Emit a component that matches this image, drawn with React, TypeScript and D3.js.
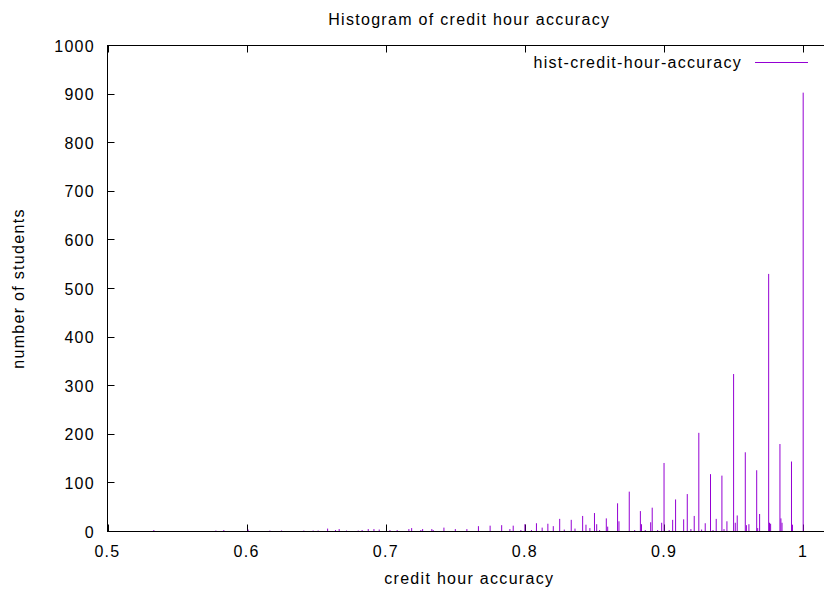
import React, { useRef, useEffect } from 'react'
import * as d3 from 'd3'

// credit hour accuracy value -> number of students
const accuracy = [
  0.5076, 0.5333, 0.5417, 0.55, 0.5615, 0.5659, 0.5723, 0.5779, 0.5836, 0.5915,
  0.6011, 0.6083, 0.6167, 0.6251, 0.6334, 0.6411, 0.6478, 0.6514, 0.6582, 0.6639,
  0.6665, 0.6718, 0.6802, 0.683, 0.6874, 0.6915, 0.6953, 0.703, 0.7082, 0.7109,
  0.7166, 0.7186, 0.7252, 0.7265, 0.7331, 0.7341, 0.7418, 0.75, 0.7583, 0.7666,
  0.775, 0.7833, 0.7892, 0.7916, 0.7971, 0.8, 0.8047, 0.8083, 0.8124, 0.8165,
  0.8204, 0.825, 0.8283, 0.8333, 0.836, 0.8415, 0.8439, 0.8467, 0.85, 0.8516,
  0.8537, 0.8585, 0.8595, 0.8666, 0.8676, 0.875, 0.8789, 0.883, 0.8838, 0.8865,
  0.8904, 0.8915, 0.8954, 0.8983, 0.9, 0.9037, 0.9062, 0.9083, 0.9141, 0.9167,
  0.9193, 0.9217, 0.925, 0.927, 0.9296, 0.9334, 0.9352, 0.9375, 0.9416, 0.9431,
  0.9452, 0.95, 0.9512, 0.9526, 0.9584, 0.9592, 0.961, 0.9666, 0.9673, 0.9687,
  0.9752, 0.9758, 0.9766, 0.9833, 0.984, 0.9848, 0.9916, 0.9923, 1.0,
]
const students = [
  1, 3, 1, 1, 1, 1, 1, 2, 3, 1,
  4, 1, 2, 2, 1, 2, 2, 2, 6, 3,
  5, 2, 2, 3, 5, 5, 4, 3, 3, 1,
  5, 7, 3, 5, 5, 3, 8, 5, 5, 11,
  12, 13, 5, 12, 3, 15, 3, 17, 8, 16,
  11, 26, 4, 24, 6, 32, 14, 7, 38, 15,
  3, 27, 10, 58, 21, 82, 3, 42, 15, 3,
  19, 49, 3, 18, 141, 3, 24, 66, 25, 77,
  5, 32, 203, 4, 17, 118, 3, 26, 115, 5,
  21, 324, 18, 33, 163, 13, 15, 126, 7, 36,
  530, 18, 16, 180, 27, 18, 144, 14, 903,
]

const xTicks = [0.5, 0.6, 0.7, 0.8, 0.9, 1]
const yTicks = [0, 100, 200, 300, 400, 500, 600, 700, 800, 900, 1000]

const title = 'Histogram of credit hour accuracy'
const xLabel = 'credit hour accuracy'
const yLabel = 'number of students'
const seriesName = 'hist-credit-hour-accuracy'

const color = '#9400d3'
const font = '"Liberation Sans", Arial, sans-serif'
const fontSize = '16px'
const spacing = '1.3px'

export default function App() {
  const svgRef = useRef<SVGSVGElement>(null)

  useEffect(() => {
    const svg = d3.select(svgRef.current)
    svg.selectAll('*').remove()

    const width = 824, height = 593
    const left = 107.5, right = 831, top = 45.5, bottom = 531.5

    const x = d3.scaleLinear().domain([0.5, 1.02]).range([left, right])
    const y = d3.scaleLinear().domain([0, 1000]).range([bottom, top])

    svg.attr('width', width).attr('height', height)
    svg.append('rect').attr('width', width).attr('height', height).attr('fill', '#fff')

    const txt = (sel) => sel.attr('font-family', font).attr('font-size', fontSize)
      .attr('letter-spacing', spacing).attr('fill', '#000')

    // ticks (under the data, like gnuplot)
    const tl = 7
    const ticks = svg.append('g').attr('stroke', '#000').attr('stroke-width', 1)
    xTicks.forEach(t => {
      const px = Math.round(x(t)) + 0.5
      ticks.append('line').attr('x1', px).attr('x2', px).attr('y1', bottom).attr('y2', bottom - tl)
      ticks.append('line').attr('x1', px).attr('x2', px).attr('y1', top).attr('y2', top + tl)
    })
    yTicks.forEach(t => {
      const py = Math.round(y(t) - 0.5) + 0.5
      ticks.append('line').attr('x1', left).attr('x2', left + tl).attr('y1', py).attr('y2', py)
      ticks.append('line').attr('x1', right).attr('x2', right - tl).attr('y1', py).attr('y2', py)
    })

    // impulses
    svg.append('g').selectAll('line')
      .data(accuracy.map((a, i) => ({ a, n: students[i] })))
      .join('line')
      .attr('x1', d => x(d.a)).attr('x2', d => x(d.a))
      .attr('y1', y(0)).attr('y2', d => y(d.n))
      .attr('stroke', color).attr('stroke-width', 1)

    // border
    svg.append('rect')
      .attr('x', left).attr('y', top)
      .attr('width', right - left).attr('height', bottom - top)
      .attr('fill', 'none').attr('stroke', '#000').attr('stroke-width', 1)

    // tick labels
    xTicks.forEach(t => {
      svg.append('text').call(txt)
        .attr('x', x(t)).attr('y', bottom + 25)
        .attr('text-anchor', 'middle')
        .text(d3.format('~g')(t))
    })
    yTicks.forEach(t => {
      svg.append('text').call(txt)
        .attr('x', 95).attr('y', y(t) + 6)
        .attr('text-anchor', 'end')
        .text(t)
    })

    svg.append('text').call(txt)
      .attr('x', (left + right) / 2).attr('y', 25)
      .attr('text-anchor', 'middle').text(title)
    svg.append('text').call(txt)
      .attr('x', (left + right) / 2).attr('y', 584)
      .attr('text-anchor', 'middle').text(xLabel)
    svg.append('text').call(txt)
      .attr('transform', `translate(24, ${(top + bottom) / 2}) rotate(-90)`)
      .attr('text-anchor', 'middle').text(yLabel)

    // legend
    svg.append('text').call(txt)
      .attr('x', 742).attr('y', 68)
      .attr('text-anchor', 'end').text(seriesName)
    svg.append('line')
      .attr('x1', 755).attr('x2', 808).attr('y1', 62.5).attr('y2', 62.5)
      .attr('stroke', color).attr('stroke-width', 1)
  }, [])

  return <svg ref={svgRef} style={{ position: 'absolute', left: 0, top: 0, display: 'block' }} />
}
